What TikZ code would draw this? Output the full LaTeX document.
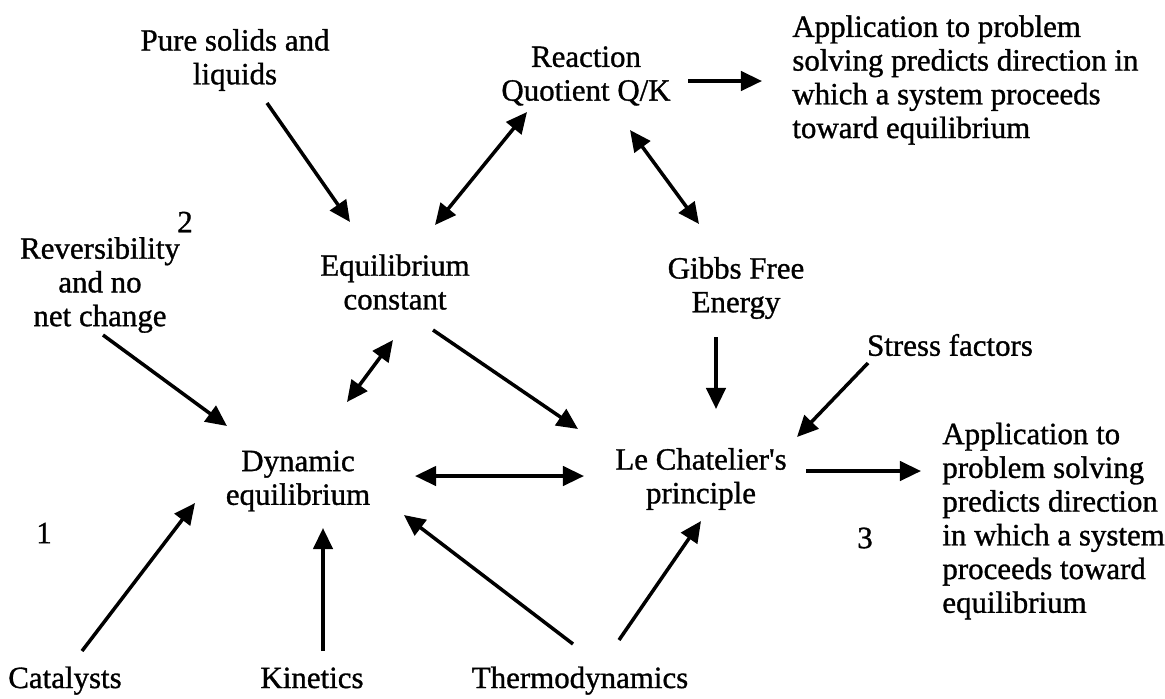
\documentclass[tikz,border=0pt]{standalone}
\usepackage{fontspec}
\setmainfont{Liberation Serif}[FakeBold=1]
\usetikzlibrary{arrows.meta, positioning, calc}

\begin{document}
\begin{tikzpicture}[
		x=0.02cm, y=0.02cm,
		font=\fontsize{17.6}{19.2}\selectfont,
		% Concept styles
		concept/.style={align=center, inner sep=0pt},
		blurb/.style={align=left, inner sep=0pt, anchor=west},
		tag/.style={inner sep=0pt},
		source/.style={inner sep=0pt, anchor=base},
		% Link styles
		link/.style={-{Triangle[length=12pt, width=11pt]}, line width=2pt},
		duallink/.style={{Triangle[length=12pt, width=11pt]}-{Triangle[length=12pt, width=11pt]}, line width=2pt}
		]
		
		\useasboundingbox (0,0) rectangle (1165,-698);
		
		% --- TOP ROW ---
		\node[concept] (pure) at (235,-60) {Pure solids and\\liquids};
		\node[concept] (rq) at (586,-76) {Reaction\\Quotient Q/K};
		\node[blurb] (app1) at (792,-80) {Application to problem\\solving predicts direction in\\which a system proceeds\\toward equilibrium};
		
		% --- MIDDLE ROW ---
		\node[tag] (two) at (185,-222) {2};
		\node[concept] (rev) at (100,-285) {Reversibility\\and no\\net change};
		\node[concept] (eqc) at (395,-282) {Equilibrium\\constant};
		\node[concept] (gibbs) at (736,-288) {Gibbs Free\\Energy};
		\node[concept] (stress) at (950,-345) {Stress factors};
		
		% --- CENTRE ROW ---
		\node[tag] (one) at (44,-533) {1};
		\node[concept] (dyn) at (298,-481) {Dynamic\\equilibrium};
		\node[concept] (lec) at (701,-479) {Le Chatelier\textquotesingle s\\principle};
		\node[tag] (three) at (865,-538) {3};
		\node[blurb] (app2) at (942,-521) {Application to\\problem solving\\predicts direction\\in which a system\\proceeds toward\\equilibrium};
		
		% --- BOTTOM ROW ---
		\node[source] (cat) at (65,-688) {Catalysts};
		\node[source] (kin) at (312,-688) {Kinetics};
		\node[source] (thermo) at (580,-688) {Thermodynamics};
		
		% Links to the equilibrium constant
		\draw[link] ($(pure)+(32,-43)$) -- ($(eqc)+(-45,60)$);
		\draw[duallink] ($(eqc)+(40,57)$) -- ($(rq)+(-59,-36)$);
		\draw[duallink] ($(eqc)+(-2,-58)$) -- ($(dyn)+(49,79)$);
		
		% Reaction quotient and free energy
		\draw[link] ($(rq)+(102,-5)$) -- ($(app1.west)+(-30,-1)$);
		\draw[duallink] ($(rq)+(44,-54)$) -- ($(gibbs)+(-37,64)$);
		\draw[link] ($(gibbs)+(-20,-49)$) -- ($(lec)+(15,70)$);
		
		% Links to Le Chatelier's principle
		\draw[link] ($(stress)+(-82,-18)$) -- ($(lec)+(96,42)$);
		\draw[link] ($(eqc)+(38,-48)$) -- ($(lec)+(-123,50)$);
		\draw[duallink] ($(dyn)+(117,5)$) -- ($(lec)+(-117,3)$);
		\draw[link] ($(lec)+(105,8)$) -- ($(app2.west)+(-21,50)$);
		
		% Links to dynamic equilibrium
		\draw[link] ($(rev)+(3,-50)$) -- ($(dyn)+(-71,55)$);
		\draw[link] ($(cat.base)+(17,37)$) -- ($(dyn)+(-103,-22)$);
		\draw[link] ($(kin.base)+(11,37)$) -- ($(dyn)+(25,-47)$);
		\draw[link] ($(thermo.base)+(-7,44)$) -- ($(dyn)+(106,-34)$);
		\draw[link] ($(thermo.base)+(39,48)$) -- ($(lec)+(0,-42)$);
		
	\end{tikzpicture}
\end{document}
